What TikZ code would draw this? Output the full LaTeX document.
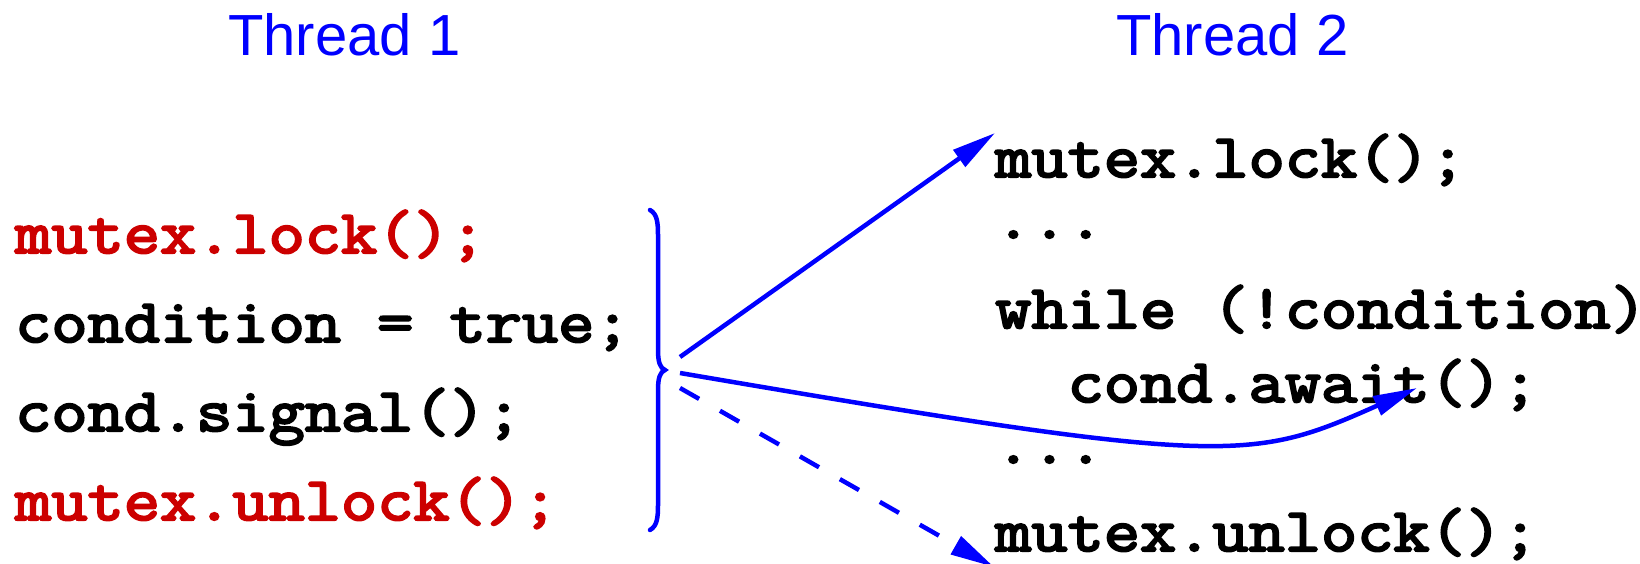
\documentclass[tikz,border=0pt]{standalone}
\usepackage{fontspec}
\setmainfont{Liberation Sans}
\newfontfamily\codefont{Latin Modern Mono}[FakeBold=3.6,FakeStretch=1.143]
\usetikzlibrary{arrows.meta}
\definecolor{codered}{RGB}{204,0,0}
\definecolor{arrowblue}{RGB}{0,0,255}
\begin{document}
\begin{tikzpicture}[x=1pt,y=-1pt,
  title/.style={anchor=base west,inner sep=0pt,text=arrowblue,font=\fontsize{58}{58}\selectfont},
  code/.style={anchor=base west,inner sep=0pt,font=\codefont\fontsize{61.5}{61.5}\selectfont},
  hot/.style={code,text=codered},
  conn/.style={draw=arrowblue,line width=4.5pt,-{Triangle[length=44pt,width=20pt]},fill=none},
  bracepath/.style={draw=arrowblue,line width=4.5pt,line cap=round}
]
\useasboundingbox (0,0) rectangle (1640,564);
% titles
\node[title] (t1) at (228,56) {Thread 1};
\node[title] (t2) at (1116,56) {Thread 2};
% thread 1 code
\node[hot]  (l1) at (15,253) {mutex.lock();};
\node[code] (l2) at (15,342) {condition = true;};
\node[code] (l3) at (15,431) {cond.signal();};
\node[hot]  (l4) at (15,520) {mutex.unlock();};
% thread 2 code
\node[code] (r1) at (995,177) {mutex.lock();};
\node[code] (r2) at (995,238) {...};
\node[code] (r3) at (995,328) {while (!condition)};
\node[code] (r4) at (995,402) {\ \ cond.await();};
\node[code] (r5) at (995,463) {...};
\node[code] (r6) at (995,551) {mutex.unlock();};
% brace
\draw[bracepath] (650,210) .. controls (657,214) and (658,222) .. (658,235)
  -- (658,350) .. controls (658,362) and (660,368) .. (665,370)
  .. controls (660,372) and (658,378) .. (658,390)
  -- (658,505) .. controls (658,518) and (657,526) .. (650,530);
% connector ends
\coordinate (s1) at (680,357);
\coordinate (s2) at (680,373);
\coordinate (s3) at (680,388);
\coordinate (e1) at (995,133);
\coordinate (e2) at (1417,388);
\coordinate (e3) at (994,567);
\draw[conn] (s1) -- (e1);
\draw[conn] (s2) .. controls (1230,467) and (1250,462) .. (e2);
\draw[conn,dash pattern=on 22pt off 24pt] (s3) -- (e3);
\end{tikzpicture}
\end{document}
